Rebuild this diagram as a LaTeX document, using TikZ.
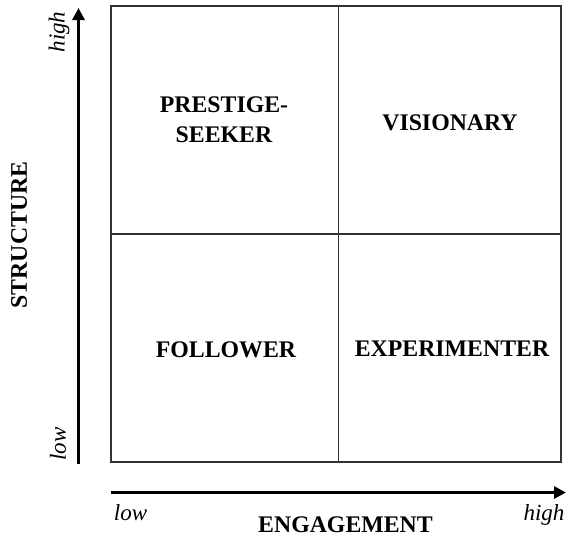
\documentclass[tikz,border=0pt]{standalone}
\usepackage{fontspec}
\setmainfont{Liberation Serif}
\usetikzlibrary{arrows.meta}
\begin{document}
\begin{tikzpicture}[x=1pt,y=-1pt,
  quad/.style={font=\fontsize{23.8}{30}\selectfont\bfseries, align=center},
  axlab/.style={font=\fontsize{23.8}{28}\selectfont\bfseries},
  endlab/.style={font=\fontsize{23}{28}\selectfont\itshape},
  axis/.style={line width=3.8pt, -{Triangle[length=12pt,width=12pt]}},
  grid/.style={draw=black!80, line width=1.3pt}]
\useasboundingbox (0,0) rectangle (569,539);
% grid box
\coordinate (tl) at (111,6);
\coordinate (br) at (561,462);
\coordinate (mt) at (338.5,6);
\coordinate (mb) at (338.5,462);
\coordinate (ml) at (111,234);
\coordinate (mr) at (561,234);
\draw[grid] (tl) rectangle (br);
\draw[grid] (mt) -- (mb);
\draw[grid] (ml) -- (mr);
% quadrant labels
\node[quad] (prestige) at (224,120) {PRESTIGE-\\SEEKER};
\node[quad] (visionary) at (450,123) {VISIONARY};
\node[quad] (follower) at (226,350) {FOLLOWER};
\node[quad] (experimenter) at (452,349) {EXPERIMENTER};
% axes
\coordinate (ys) at (78.5,463.5);
\coordinate (ye) at (78.5,8);
\coordinate (xs) at (111,492.5);
\coordinate (xe) at (566,492.5);
\draw[axis] (ys) -- (ye);
\draw[axis] (xs) -- (xe);
% axis labels
\node[axlab, rotate=90] (structure) at (19,235) {STRUCTURE};
\node[axlab] (engagement) at (345.5,525) {ENGAGEMENT};
\node[endlab, rotate=90] (yhigh) at (59,32) {high};
\node[endlab, rotate=90] (ylow) at (58,444) {low};
\node[endlab, anchor=base] (xlow) at (130.5,520) {low};
\node[endlab, anchor=base] (xhigh) at (544,520) {high};
\end{tikzpicture}
\end{document}
